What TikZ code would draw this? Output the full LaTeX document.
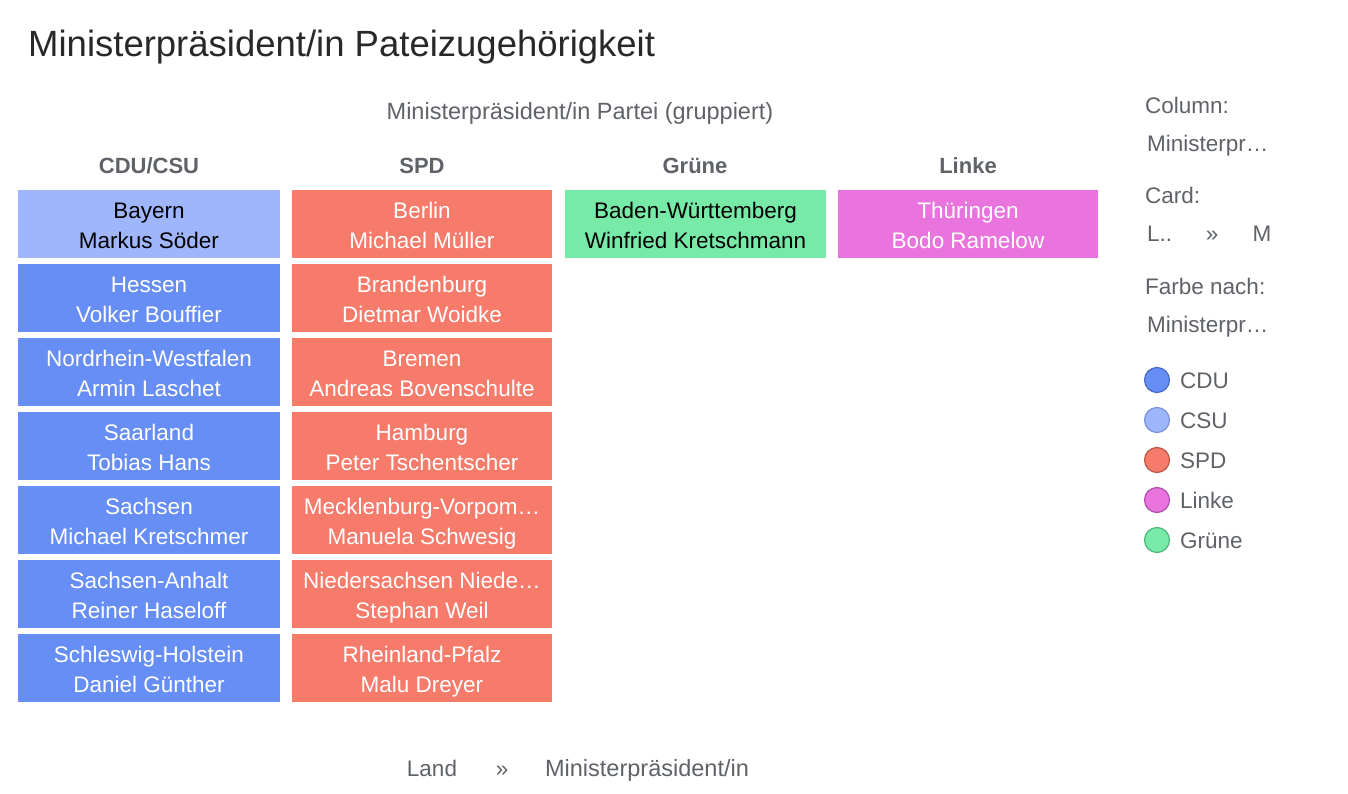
\documentclass[tikz,border=0pt]{standalone}
\usepackage{fontspec}
\setmainfont{Liberation Sans}
\definecolor{cdu}{RGB}{102,142,245}
\definecolor{csu}{RGB}{160,182,252}
\definecolor{spd}{RGB}{246,123,107}
\definecolor{linke}{RGB}{233,116,222}
\definecolor{gruene}{RGB}{120,234,168}
\definecolor{cdud}{RGB}{70,105,200}
\definecolor{csud}{RGB}{120,145,215}
\definecolor{spdd}{RGB}{190,85,70}
\definecolor{linked}{RGB}{175,80,170}
\definecolor{gruened}{RGB}{80,180,120}
\definecolor{lbl}{RGB}{95,99,104}
\definecolor{ttl}{RGB}{40,40,40}
\newcommand{\toprl}{\rule{0pt}{24pt}}
\newcommand{\botrl}{\rule[-6pt]{0pt}{6pt}}
\newcommand{\cardtxt}[2]{\toprl#1\\#2\botrl}
\tikzset{
  card/.style={fill=#1, draw=none, minimum width=262pt, minimum height=68pt, inner sep=0pt,
    align=center, text=white, font=\fontsize{22.5}{30}\selectfont},
  hdr/.style={text=lbl, font=\fontsize{22}{24}\selectfont\bfseries, anchor=base, inner sep=0pt},
  lab/.style={text=lbl, font=\fontsize{22.5}{24}\selectfont, inner sep=0pt, anchor=base},
  labw/.style={lab, anchor=base west},
  leg/.style={circle, minimum size=25pt, inner sep=0pt, line width=1.2pt},
}
\begin{document}
\begin{tikzpicture}[x=1pt,y=-1pt]
\useasboundingbox (0,0) rectangle (1348,794);
\fill[white] (0,0) rectangle (1348,794);
\node[anchor=base west, text=ttl, font=\fontsize{36.5}{40}\selectfont, inner sep=0pt] (title) at (28,57) {Ministerpräsident/in Pateizugehörigkeit};
\node[lab, font=\fontsize{23.5}{24}\selectfont] (grp) at (580,120) {Ministerpräsident/in Partei (gruppiert)};
\node[hdr] (h1) at (149,174) {CDU/CSU};
\node[hdr] (h2) at (422,174) {SPD};
\node[hdr] (h3) at (695,174) {Grüne};
\node[hdr] (h4) at (968,174) {Linke};
% CDU/CSU column
\node[card=csu, text=black] (c1) at (149,224) {\cardtxt{Bayern}{Markus Söder}};
\node[card=cdu] (c2) at (149,298) {\cardtxt{Hessen}{Volker Bouffier}};
\node[card=cdu] (c3) at (149,372) {\cardtxt{Nordrhein-Westfalen}{Armin Laschet}};
\node[card=cdu] (c4) at (149,446) {\cardtxt{Saarland}{Tobias Hans}};
\node[card=cdu] (c5) at (149,520) {\cardtxt{Sachsen}{Michael Kretschmer}};
\node[card=cdu] (c6) at (149,594) {\cardtxt{Sachsen-Anhalt}{Reiner Haseloff}};
\node[card=cdu] (c7) at (149,668) {\cardtxt{Schleswig-Holstein}{Daniel Günther}};
% SPD column
\node[card=spd, minimum width=260pt] (s1) at (422,224) {\cardtxt{Berlin}{Michael Müller}};
\node[card=spd, minimum width=260pt] (s2) at (422,298) {\cardtxt{Brandenburg}{Dietmar Woidke}};
\node[card=spd, minimum width=260pt] (s3) at (422,372) {\cardtxt{Bremen}{Andreas Bovenschulte}};
\node[card=spd, minimum width=260pt] (s4) at (422,446) {\cardtxt{Hamburg}{Peter Tschentscher}};
\node[card=spd, minimum width=260pt] (s5) at (422,520) {\cardtxt{Mecklenburg-Vorpom…}{Manuela Schwesig}};
\node[card=spd, minimum width=260pt] (s6) at (422,594) {\cardtxt{Niedersachsen Niede…}{Stephan Weil}};
\node[card=spd, minimum width=260pt] (s7) at (422,668) {\cardtxt{Rheinland-Pfalz}{Malu Dreyer}};
% Gruene
\node[card=gruene, text=black, minimum width=261pt] (g1) at (695.5,224) {\cardtxt{Baden-Württemberg}{Winfried Kretschmann}};
% Linke
\node[card=linke, minimum width=260pt] (l1) at (968,224) {\cardtxt{Thüringen}{Bodo Ramelow}};
% bottom
\node[lab] (b1) at (432,776) {Land};
\node[lab] (b2) at (502,776) {»};
\node[lab, font=\fontsize{23.5}{24}\selectfont] (b3) at (647,776) {Ministerpräsident/in};
% side panel
\node[labw] (p1) at (1145,114) {Column:};
\node[labw] (p2) at (1147,152) {Ministerpr…};
\node[labw] (p3) at (1145,204) {Card:};
\node[labw] (p4) at (1147,242) {L..};
\node[lab] (p5) at (1212,242) {»};
\node[lab] (p6) at (1262,242) {M};
\node[labw] (p7) at (1145,294) {Farbe nach:};
\node[labw] (p8) at (1147,332) {Ministerpr…};
% legend
\node[leg, fill=cdu, draw=cdud] (k1) at (1157,380) {};
\node[leg, fill=csu, draw=csud] (k2) at (1157,420) {};
\node[leg, fill=spd, draw=spdd] (k3) at (1157,460) {};
\node[leg, fill=linke, draw=linked] (k4) at (1157,500) {};
\node[leg, fill=gruene, draw=gruened] (k5) at (1157,540) {};
\node[labw] (t1) at (1180,388) {CDU};
\node[labw] (t2) at (1180,428) {CSU};
\node[labw] (t3) at (1180,468) {SPD};
\node[labw] (t4) at (1180,508) {Linke};
\node[labw] (t5) at (1180,548) {Grüne};
\end{tikzpicture}
\end{document}
